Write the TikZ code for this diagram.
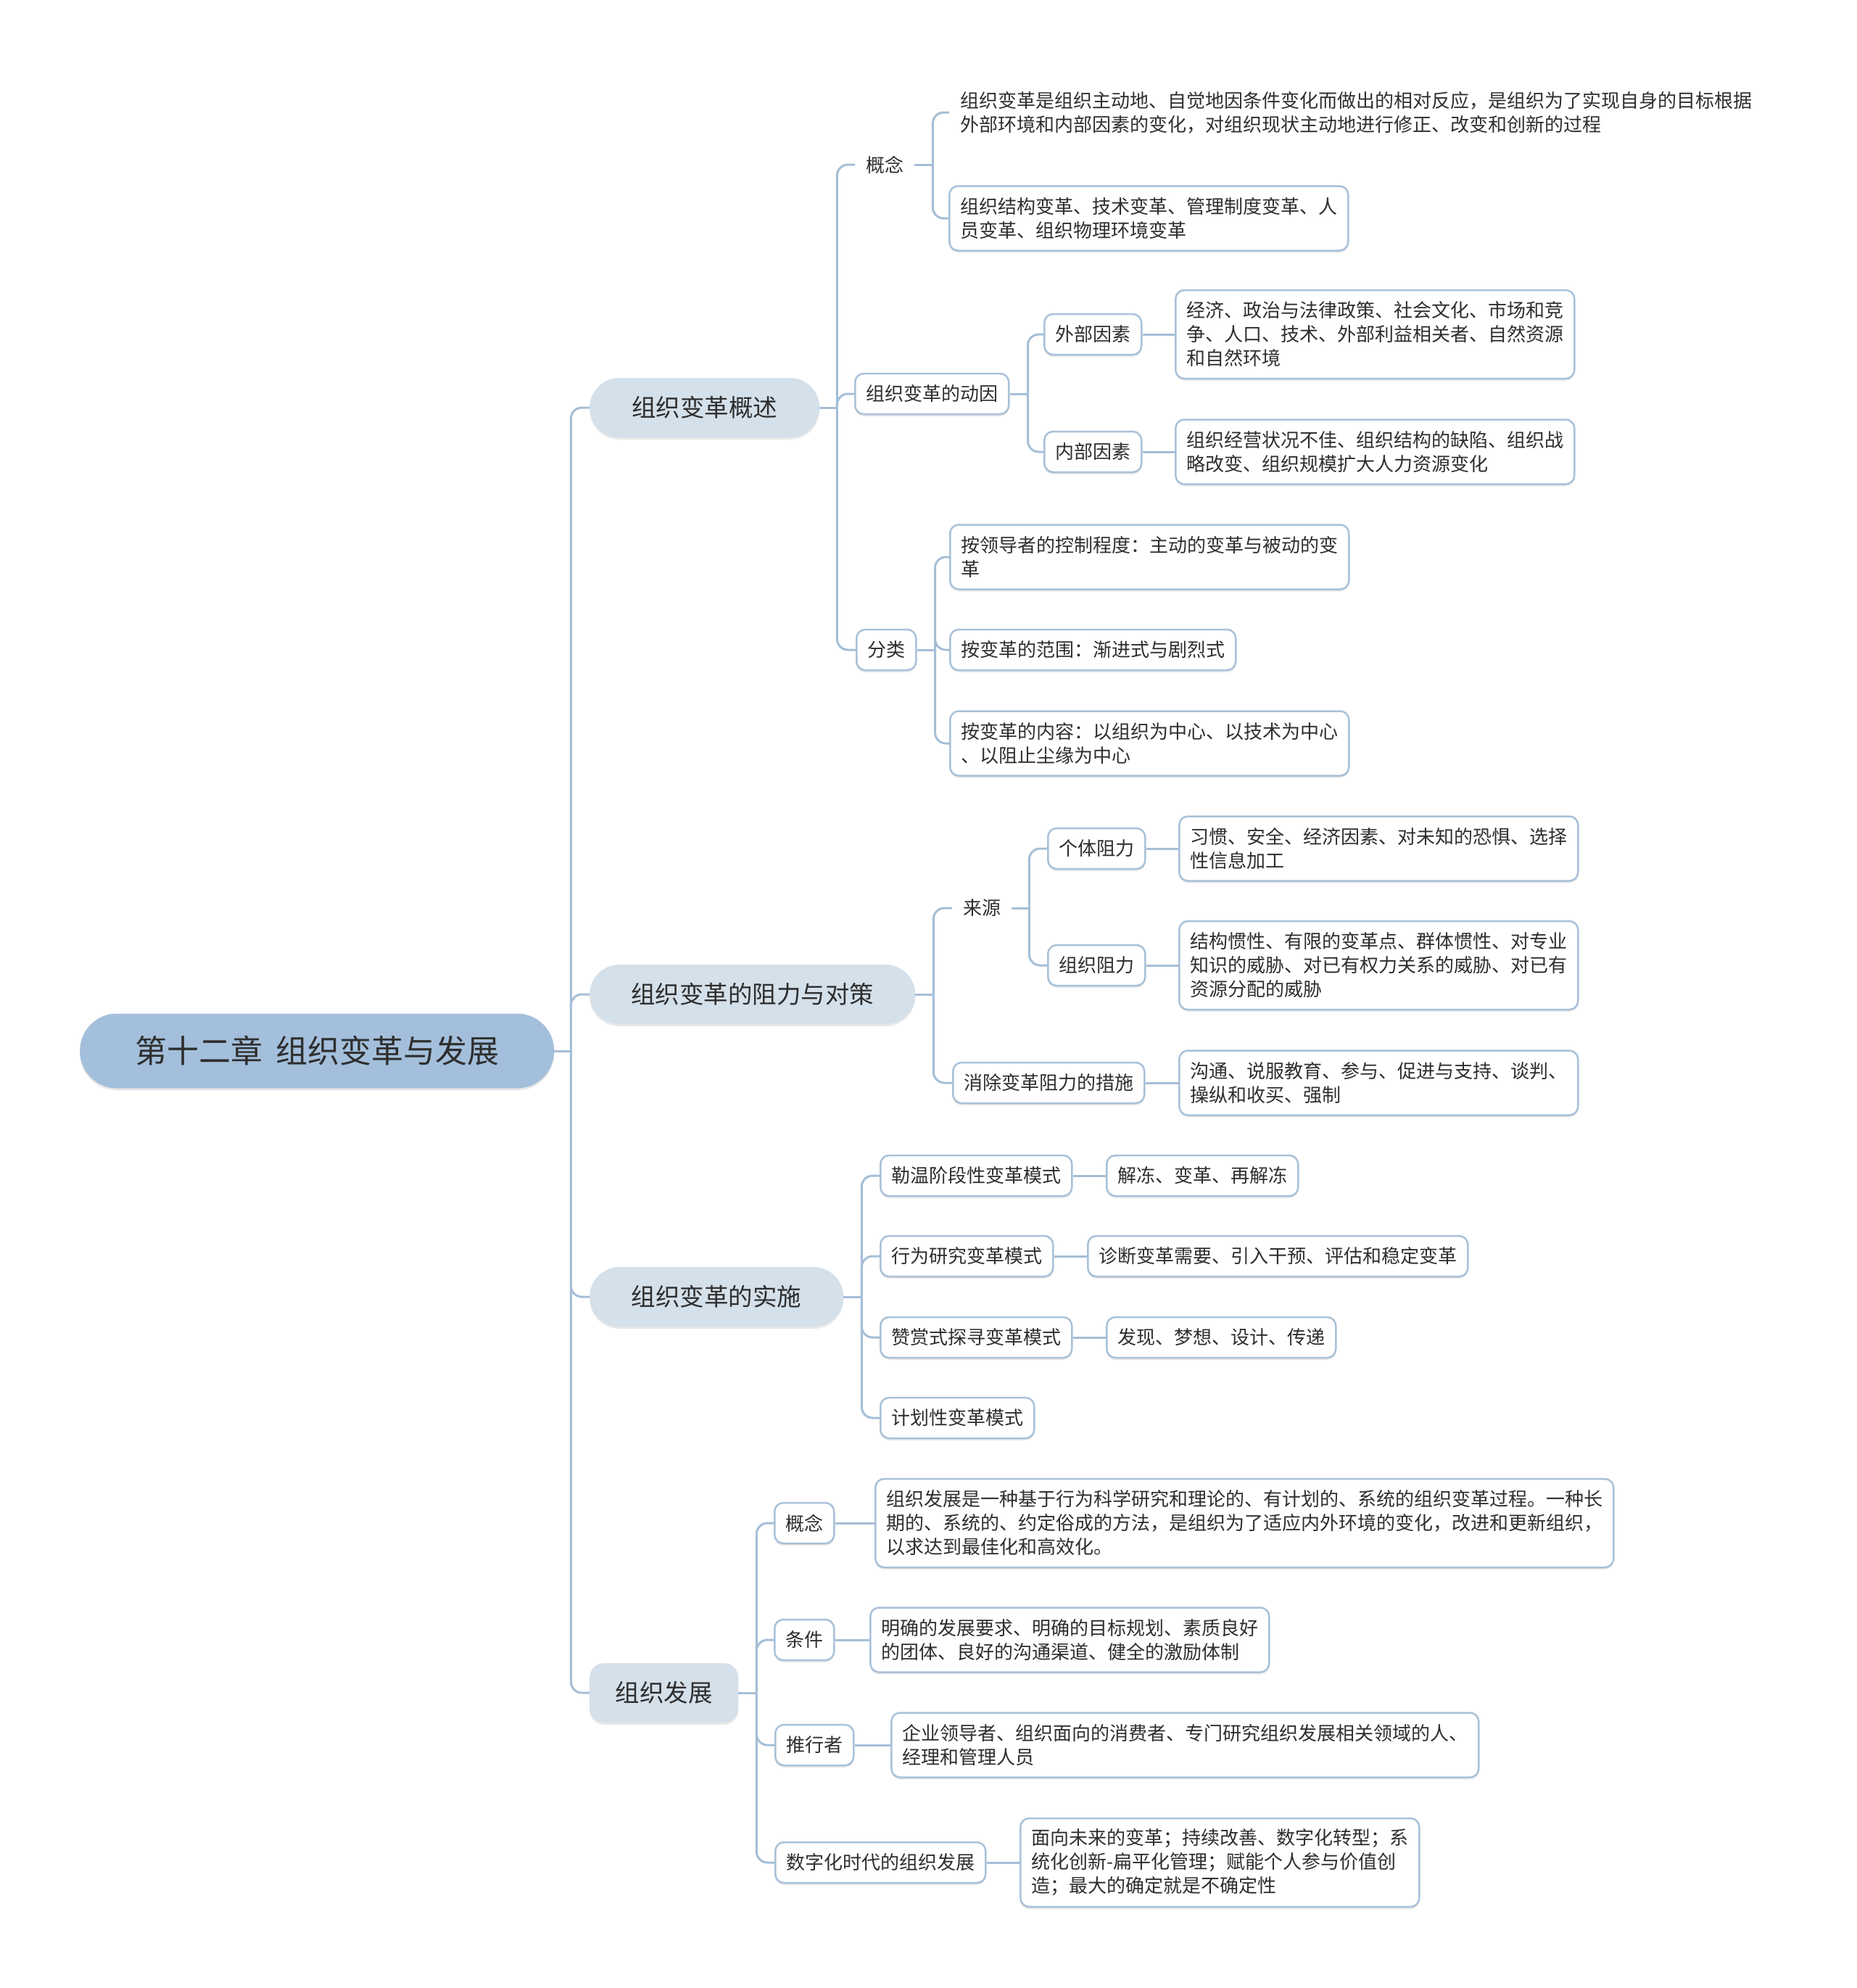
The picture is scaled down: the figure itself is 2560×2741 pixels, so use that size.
\documentclass[tikz,border=0pt]{standalone}
\usepackage{fontspec}
\setmainfont{Noto Sans CJK SC}
\usetikzlibrary{shadows}
\definecolor{linec}{HTML}{A5BED7}
\definecolor{bordc}{HTML}{A9C1D9}
\definecolor{rootfill}{HTML}{A3BFDB}
\definecolor{lonefill}{HTML}{D4E0EA}
\definecolor{txt}{HTML}{2E2E2E}
\begin{document}
\begin{tikzpicture}[x=1pt,y=-1pt,
  shad/.style={drop shadow={shadow xshift=0pt,shadow yshift=-3pt,opacity=0.18,fill=black!50}},
  smalltext/.style={font=\fontsize{26pt}{33pt}\selectfont, text=txt, align=left, inner xsep=15pt, inner ysep=0pt, anchor=west},
  plain/.style={smalltext},
  box/.style={smalltext, draw=bordc, line width=2.5pt, fill=white, rounded corners=12pt, shad},
  h1/.style={minimum height=56pt},
  h2/.style={minimum height=89pt},
  h3/.style={minimum height=122pt},
  lone/.style={anchor=west, fill=lonefill, rounded corners=41pt, minimum height=82pt, inner sep=0pt, font=\fontsize{33.5pt}{40pt}\selectfont, text=txt, shad},
  rootn/.style={anchor=west, fill=rootfill, rounded corners=51pt, minimum height=103pt, minimum width=654pt, inner sep=0pt, font=\fontsize{44pt}{50pt}\selectfont, text=txt, shad},
  link/.style={draw=linec, line width=3pt},
  rc/.style={rounded corners=15pt}
]
\useasboundingbox (0,0) rectangle (2560,2741);

% root and level 1
\node[rootn] (root) at (110,1449) {第十二章\hspace{18pt}组织变革与发展};
\node[lone, minimum width=317pt] (A) at (813,562) {组织变革概述};
\node[lone, minimum width=449pt] (B) at (813,1371) {组织变革的阻力与对策};
\node[lone, minimum width=350pt] (C) at (813,1788) {组织变革的实施};
\node[lone, minimum width=205pt, rounded corners=20pt] (D) at (813,2334) {组织发展};

% A
\node[plain,h1] (A1) at (1179,227) {概念};
\node[plain,h2] (A1a) at (1309,155) {组织变革是组织主动地、自觉地因条件变化而做出的相对反应，是组织为了实现自身的目标根据\\外部环境和内部因素的变化，对组织现状主动地进行修正、改变和创新的过程};
\node[box,h2] (A1b) at (1308,301) {组织结构变革、技术变革、管理制度变革、人\\员变革、组织物理环境变革};
\node[box,h1] (A2) at (1178,543) {组织变革的动因};
\node[box,h1] (A2a) at (1439,461) {外部因素};
\node[box,h3] (A2a1) at (1620,461) {经济、政治与法律政策、社会文化、市场和竞\\争、人口、技术、外部利益相关者、自然资源\\和自然环境};
\node[box,h1] (A2b) at (1439,623) {内部因素};
\node[box,h2] (A2b1) at (1620,623) {组织经营状况不佳、组织结构的缺陷、组织战\\略改变、组织规模扩大人力资源变化};
\node[box,h1] (A3) at (1180,896) {分类};
\node[box,h2] (A3a) at (1309,768) {按领导者的控制程度：主动的变革与被动的变\\革};
\node[box,h1] (A3b) at (1309,896) {按变革的范围：渐进式与剧烈式};
\node[box,h2] (A3c) at (1309,1025) {按变革的内容：以组织为中心、以技术为中心\\、以阻止尘缘为中心};

% B
\node[plain,h1] (B1) at (1313,1252) {来源};
\node[box,h1] (B1a) at (1444,1170) {个体阻力};
\node[box,h2] (B1a1) at (1625,1170) {习惯、安全、经济因素、对未知的恐惧、选择\\性信息加工};
\node[box,h1] (B1b) at (1444,1331) {组织阻力};
\node[box,h3] (B1b1) at (1625,1331) {结构惯性、有限的变革点、群体惯性、对专业\\知识的威胁、对已有权力关系的威胁、对已有\\资源分配的威胁};
\node[box,h1] (B2) at (1313,1493) {消除变革阻力的措施};
\node[box,h2] (B21) at (1625,1493) {沟通、说服教育、参与、促进与支持、谈判、\\操纵和收买、强制};

% C
\node[box,h1] (C1) at (1213,1621) {勒温阶段性变革模式};
\node[box,h1] (C11) at (1525,1621) {解冻、变革、再解冻};
\node[box,h1] (C2) at (1213,1732) {行为研究变革模式};
\node[box,h1] (C21) at (1499,1732) {诊断变革需要、引入干预、评估和稳定变革};
\node[box,h1] (C3) at (1213,1844) {赞赏式探寻变革模式};
\node[box,h1] (C31) at (1525,1844) {发现、梦想、设计、传递};
\node[box,h1] (C4) at (1213,1955) {计划性变革模式};

% D
\node[box,h1] (D1) at (1067,2100) {概念};
\node[box,h3] (D11) at (1206,2100) {组织发展是一种基于行为科学研究和理论的、有计划的、系统的组织变革过程。一种长\\期的、系统的、约定俗成的方法，是组织为了适应内外环境的变化，改进和更新组织，\\以求达到最佳化和高效化。};
\node[box,h1] (D2) at (1067,2261) {条件};
\node[box,h2] (D21) at (1199,2261) {明确的发展要求、明确的目标规划、素质良好\\的团体、良好的沟通渠道、健全的激励体制};
\node[box,h1] (D3) at (1068,2406) {推行者};
\node[box,h2] (D31) at (1228,2406) {企业领导者、组织面向的消费者、专门研究组织发展相关领域的人、\\经理和管理人员};
\node[box,h1] (D4) at (1068,2568) {数字化时代的组织发展};
\node[box,h3] (D41) at (1406,2568) {面向未来的变革；持续改善、数字化转型；系\\统化创新-扁平化管理；赋能个人参与价值创\\造；最大的确定就是不确定性};

% connectors
\draw[link] (root.east) -- ++(23,0) coordinate (rootT);
\foreach \n in {A,B,C,D} \draw[link,rc] (rootT) |- (\n.west);

\draw[link] (A.east) -- ++(24,0) coordinate (AT);
\foreach \n in {A1,A2,A3} \draw[link,rc] (AT) |- (\n.west);
\draw[link] (A1.east) -- ++(25,0) coordinate (A1T);
\foreach \n in {A1a,A1b} \draw[link,rc] (A1T) |- (\n.west);
\draw[link] (A2.east) -- ++(25,0) coordinate (A2T);
\foreach \n in {A2a,A2b} \draw[link,rc] (A2T) |- (\n.west);
\draw[link] (A2a.east) -- (A2a1.west);
\draw[link] (A2b.east) -- (A2b1.west);
\draw[link] (A3.east) -- ++(25,0) coordinate (A3T);
\foreach \n in {A3a,A3b,A3c} \draw[link,rc] (A3T) |- (\n.west);

\draw[link] (B.east) -- ++(25,0) coordinate (BT);
\foreach \n in {B1,B2} \draw[link,rc] (BT) |- (\n.west);
\draw[link] (B1.east) -- ++(24,0) coordinate (B1T);
\foreach \n in {B1a,B1b} \draw[link,rc] (B1T) |- (\n.west);
\draw[link] (B1a.east) -- (B1a1.west);
\draw[link] (B1b.east) -- (B1b1.west);
\draw[link] (B2.east) -- (B21.west);

\draw[link] (C.east) -- ++(25,0) coordinate (CT);
\foreach \n in {C1,C2,C3,C4} \draw[link,rc] (CT) |- (\n.west);
\draw[link] (C1.east) -- (C11.west);
\draw[link] (C2.east) -- (C21.west);
\draw[link] (C3.east) -- (C31.west);

\draw[link] (D.east) -- ++(25,0) coordinate (DT);
\foreach \n in {D1,D2,D3,D4} \draw[link,rc] (DT) |- (\n.west);
\draw[link] (D1.east) -- (D11.west);
\draw[link] (D2.east) -- (D21.west);
\draw[link] (D3.east) -- (D31.west);
\draw[link] (D4.east) -- (D41.west);
\end{tikzpicture}
\end{document}
